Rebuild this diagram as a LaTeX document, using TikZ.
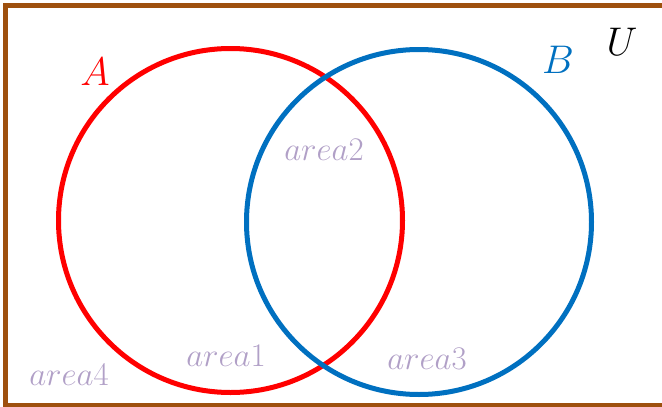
\RequirePackage{fix-cm}
\documentclass[tikz,border=0pt]{standalone}
\usepackage{tikz}
\definecolor{setred}{RGB}{255,0,0}
\definecolor{setblue}{RGB}{0,112,192}
\definecolor{universe}{RGB}{158,80,14}
\definecolor{arealbl}{RGB}{177,160,199}

\begin{document}
\begin{tikzpicture}[x=1pt, y=-1pt, line width=5pt,
  setlabel/.style={font=\fontsize{40}{46}\selectfont},
  arealabel/.style={anchor=base, text=arealbl, font=\fontsize{33}{40}\selectfont}]
\useasboundingbox (0,0) rectangle (662,407);

%universe
\draw[universe] (5.5,5) rectangle (672,405.5);
\node[setlabel] (U) at (622,42) {$U$};

%sets
\draw[setred] (230.5,220.5) circle (172);
\draw[setblue] (419,222) circle (172.5);
\node[setlabel, text=setred] (A) at (95,72) {$A$};
\node[setlabel, text=setblue] (B) at (558,60) {$B$};

%areas
\node[arealabel] (area1) at (226,366) {$area1$};
\node[arealabel] (area2) at (324,160) {$area2$};
\node[arealabel] (area3) at (427,369) {$area3$};
\node[arealabel] (area4) at (69,385) {$area4$};
\end{tikzpicture}
\end{document}
